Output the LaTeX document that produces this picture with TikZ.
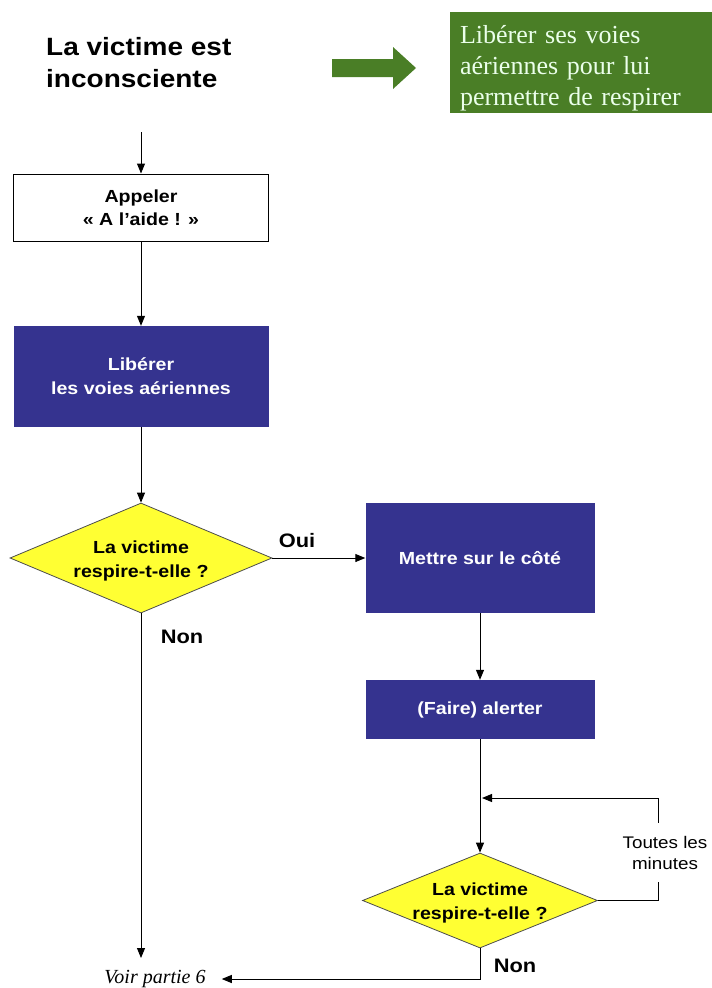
\documentclass[tikz,border=0pt]{standalone}
\usepackage{fontspec}
\setmainfont{Liberation Sans}[FakeStretch=1.12]
\newfontfamily\advicefont{Liberation Serif}
\usetikzlibrary{shapes.geometric,arrows.meta}
\definecolor{stepblue}{RGB}{53,51,143}
\definecolor{askyellow}{RGB}{255,255,51}
\definecolor{advicegreen}{RGB}{74,126,38}
\tikzset{
  flow/.style={-{Triangle[length=10pt,width=8pt]},line width=1pt},
  plainbox/.style={draw,line width=1pt,fill=white,minimum width=255pt,minimum height=67pt,
    align=center,font=\fontsize{17.5}{23}\selectfont\bfseries},
  bluebox/.style={fill=stepblue,text=white,minimum width=229pt,align=center,
    font=\fontsize{17.5}{24}\selectfont\bfseries},
  askbox/.style={diamond,draw=black!70,line width=0.8pt,fill=askyellow,inner sep=0pt},
  asktext/.style={align=center,font=\fontsize{17.5}{24}\selectfont\bfseries},
  answer/.style={font=\fontsize{19.5}{22}\selectfont\bfseries}
}
\begin{document}
\begin{tikzpicture}[x=1pt,y=-1pt]
  \useasboundingbox (0,0) rectangle (712,988);

  \node[anchor=west,inner sep=0pt,align=left,font=\fontsize{25}{32}\selectfont\bfseries] (title) at (46,63) {La victime est\\inconsciente};
  \fill[advicegreen] (332,59) -- (393,59) -- (393,47) -- (416,68) -- (393,89) -- (393,77) -- (332,77) -- cycle;
  \node[fill=advicegreen,minimum width=262pt,minimum height=101pt] (advice) at (581,62.5) {};
  \node[text=white!92!green,text width=242pt,inner sep=0pt,align=left,
    font=\advicefont\fontsize{26}{31}\selectfont] (advicetext) at (581,68.5)
    {Libérer ses voies\\aériennes pour lui\\permettre de respirer};

  \coordinate (start) at (141,132);
  \node[plainbox] (call) at (141,207.5) {Appeler\\« A l’aide ! »};
  \node[bluebox,minimum width=255pt,minimum height=101pt] (airway) at (141,376.5) {Libérer\\les voies aériennes};
  \node[askbox,minimum width=262pt,minimum height=110pt] (ask1) at (141,558) {};
  \node[asktext] (ask1text) at (141,561) {La victime\\respire-t-elle ?};
  \node[bluebox,minimum height=110pt] (side) at (480,558) {Mettre sur le côté};
  \node[bluebox,minimum height=59pt] (alert) at (480,709.5) {(Faire) alerter};
  \node[askbox,minimum width=235pt,minimum height=95pt] (ask2) at (480,900.5) {};
  \node[asktext] (ask2text) at (480,903) {La victime\\respire-t-elle ?};
  \node[font=\fontsize{16.8}{21}\selectfont,align=center,inner xsep=0pt,inner ysep=0pt,
    minimum height=59pt] (every) at (665,852.5) {Toutes les\\minutes};
  \node[font=\advicefont\itshape\fontsize{20}{22}\selectfont,inner sep=0pt] (voir) at (155,979) {Voir partie 6};
  \coordinate (loop) at (482,798);

  \node[answer] at (297,541) {Oui};
  \node[answer] at (182,637) {Non};
  \node[answer] at (515,966) {Non};

  \draw[flow] (start) -- (call.north);
  \draw[flow] (call.south) -- (airway.north);
  \draw[flow] (airway.south) -- (ask1.north);
  \draw[flow] (ask1.east) -- (side.west);
  \draw[flow] (ask1.south) -- (141,958);
  \draw[flow] (side.south) -- (alert.north);
  \draw[flow] (alert.south) -- (ask2.north);
  \draw[line width=1pt] (ask2.east) -| ([xshift=-7pt]every.south);
  \draw[flow] ([xshift=-7pt]every.north) |- (loop);
  \draw[flow] (ask2.south) |- ([xshift=16pt]voir.east);
\end{tikzpicture}
\end{document}
